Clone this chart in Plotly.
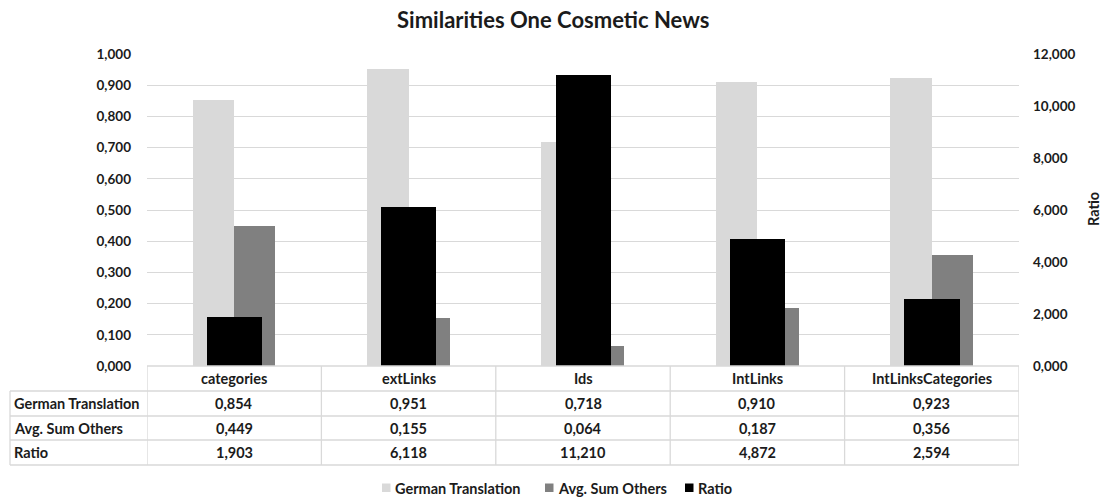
import plotly.graph_objects as go

# Data
categories = ["categories", "extLinks", "Ids", "IntLinks", "IntLinksCategories"]
german_translation = [0.854, 0.951, 0.718, 0.910, 0.923]
avg_sum_others = [0.449, 0.155, 0.064, 0.187, 0.356]
ratio = [1.903, 6.118, 11.210, 4.872, 2.594]

left_ticks = [i / 10 for i in range(11)]
right_ticks = [0, 2, 4, 6, 8, 10, 12]


def fmt(v):
    return f"{v:.3f}".replace(".", ",")


# Layout geometry (pixels)
W, H = 1102, 498
PL, PR, PT, PB = 147, 1019, 54, 366


def px_x(p):
    return (p - PL) / (PR - PL)


def px_y(p):
    return (PB - p) / (PB - PT)


FONT = "Lato, 'Open Sans', sans-serif"
TXT = "#1b1b1b"
GRID = "#d9d9d9"
COLORS = {"German Translation": "#d9d9d9", "Avg. Sum Others": "#808080", "Ratio": "#000000"}

x_idx = list(range(len(categories)))

fig = go.Figure()
fig.add_trace(go.Bar(
    x=x_idx, y=german_translation, name="German Translation",
    marker=dict(color=COLORS["German Translation"], line=dict(width=0)),
    offset=-0.238, width=0.238, yaxis="y",
))
fig.add_trace(go.Bar(
    x=x_idx, y=avg_sum_others, name="Avg. Sum Others",
    marker=dict(color=COLORS["Avg. Sum Others"], line=dict(width=0)),
    offset=0.0, width=0.236, yaxis="y",
))
fig.add_trace(go.Bar(
    x=x_idx, y=ratio, name="Ratio",
    marker=dict(color=COLORS["Ratio"], line=dict(width=0)),
    offset=-0.157, width=0.316, yaxis="y2",
))

shapes = []
line_style = dict(color=GRID, width=1.3)
# horizontal table lines
shapes.append(dict(type="line", xref="paper", yref="paper",
                   x0=px_x(PL), x1=px_x(PR), y0=px_y(366), y1=px_y(366), line=line_style))
for py in [391, 416, 440, 465]:
    shapes.append(dict(type="line", xref="paper", yref="paper",
                       x0=px_x(10), x1=px_x(PR), y0=px_y(py), y1=px_y(py), line=line_style))
# vertical table lines
shapes.append(dict(type="line", xref="paper", yref="paper",
                   x0=px_x(10), x1=px_x(10), y0=px_y(391), y1=px_y(465), line=line_style))
for i in range(len(categories) + 1):
    shapes.append(dict(type="line", xref="x", yref="paper",
                       x0=i - 0.5, x1=i - 0.5, y0=px_y(366), y1=px_y(465), line=line_style))

annotations = []
tfont = dict(family=FONT, size=14.5, color=TXT, weight="bold")
# header row
for i, c in enumerate(categories):
    annotations.append(dict(x=i, y=px_y(378.5), xref="x", yref="paper", text=c,
                            showarrow=False, font=tfont, xanchor="center", yanchor="middle"))
rows = [("German Translation", german_translation, 403.5),
        ("Avg. Sum Others", avg_sum_others, 428),
        ("Ratio", ratio, 452.5)]
for label, vals, py in rows:
    annotations.append(dict(x=px_x(12), y=px_y(py), xref="paper", yref="paper", text=label,
                            showarrow=False, font=tfont, xanchor="left", yanchor="middle"))
    for i, v in enumerate(vals):
        annotations.append(dict(x=i, y=px_y(py), xref="x", yref="paper", text=fmt(v),
                                showarrow=False, font=tfont, xanchor="center", yanchor="middle"))

# legend drawn below the table
legend_items = [("German Translation", 382), ("Avg. Sum Others", 545), ("Ratio", 685)]
for name, sx in legend_items:
    shapes.append(dict(type="rect", xref="paper", yref="paper",
                       x0=px_x(sx), x1=px_x(sx + 8.5), y0=px_y(483.5), y1=px_y(492),
                       fillcolor=COLORS[name], line=dict(width=0)))
    annotations.append(dict(x=px_x(sx + 11), y=px_y(488), xref="paper", yref="paper",
                            text=name, showarrow=False, font=tfont,
                            xanchor="left", yanchor="middle"))

# secondary axis title
annotations.append(dict(x=px_x(1093), y=px_y(209), xref="paper", yref="paper", text="Ratio",
                        textangle=-90, showarrow=False, font=tfont,
                        xanchor="center", yanchor="middle"))

tick_font = dict(family=FONT, size=13.5, color=TXT, weight="bold")

fig.update_layout(
    width=W, height=H,
    margin=dict(l=PL, r=W - PR, t=PT, b=H - PB, pad=0, autoexpand=False),
    paper_bgcolor="white", plot_bgcolor="white",
    barmode="overlay", showlegend=False,
    title=dict(text="Similarities One Cosmetic News", x=0.502, xanchor="center",
               y=1 - 20 / H, yanchor="middle",
               font=dict(family=FONT, size=22, color=TXT, weight="bold")),
    xaxis=dict(range=[-0.5, len(categories) - 0.5], showticklabels=False,
               showgrid=False, zeroline=False, showline=False, ticks=""),
    yaxis=dict(range=[0, 1], tickvals=left_ticks, ticktext=[fmt(v) for v in left_ticks],
               showgrid=True, gridcolor=GRID, gridwidth=1.3, zeroline=False, showline=False,
               ticks="", ticklabelstandoff=15, tickfont=tick_font),
    yaxis2=dict(range=[0, 12], overlaying="y", side="right",
                tickvals=right_ticks, ticktext=[fmt(v) for v in right_ticks],
                showgrid=False, zeroline=False, showline=False, ticks="",
                ticklabelstandoff=13, tickfont=tick_font),
    shapes=shapes, annotations=annotations,
    bargap=0,
)

fig.write_html("out.html")
